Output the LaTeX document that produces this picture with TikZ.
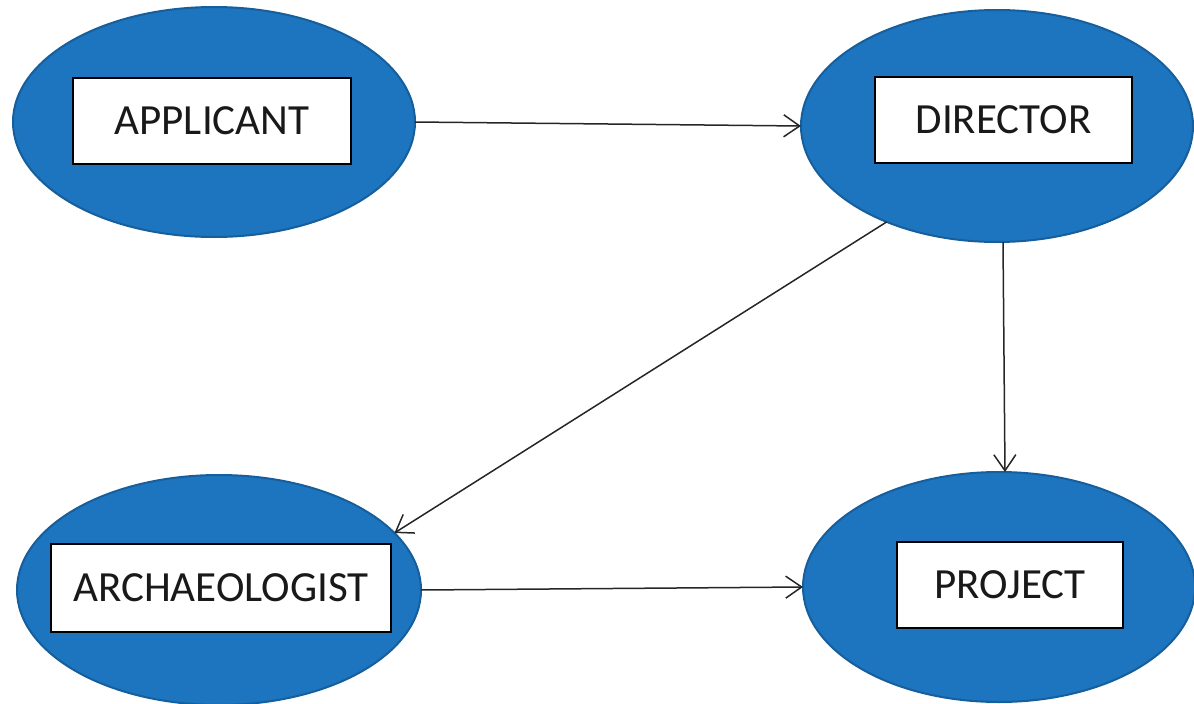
\documentclass[tikz,border=0pt]{standalone}
\usepackage{fontspec}
\setmainfont{Carlito}
\usetikzlibrary{shapes.geometric,arrows.meta,calc}
\definecolor{ellfill}{RGB}{28,117,190}
\definecolor{elldraw}{RGB}{22,94,156}
\tikzset{
  ell/.style={ellipse, fill=ellfill, draw=elldraw, line width=2pt, inner sep=0pt, outer sep=0pt},
  lbl/.style={rectangle, fill=white, draw=black, line width=1.4pt, inner sep=0pt, font=\fontsize{43}{47}\selectfont, text=black!90},
  arr/.style={draw=black!85, line width=1.5pt, -{Straight Barb[length=16pt,width=22pt,line width=1.5pt]}}
}
\begin{document}
\begin{tikzpicture}[x=1pt,y=-1pt]
\useasboundingbox (0,0) rectangle (1194,704);
\node[ell, minimum width=402pt, minimum height=230pt] (app) at (214,122) {};
\node[ell, minimum width=392pt, minimum height=232pt] (dir) at (997,126) {};
\node[ell, minimum width=404pt, minimum height=230pt] (arch) at (219,590) {};
\node[ell, minimum width=392pt, minimum height=230pt] (proj) at (999,587) {};
\node[lbl, minimum width=278pt, minimum height=86pt] (appbox) at (212,121) {APPLICANT};
\node[lbl, minimum width=257pt, minimum height=86pt] (dirbox) at (1003.5,120) {DIRECTOR};
\node[lbl, minimum width=340pt, minimum height=88pt] (archbox) at (221,588) {ARCHAEOLOGIST};
\node[lbl, minimum width=226pt, minimum height=86pt] (projbox) at (1010,585) {PROJECT};
\draw[arr] (app.east) -- (dir.west);
\draw[arr] ($(dir.south)+(6,0)$) -- ($(proj.north)+(6,0)$);
\draw[arr] (dir.221) -- (arch.18);
\draw[arr] (arch.east) -- (proj.west);
\end{tikzpicture}
\end{document}
